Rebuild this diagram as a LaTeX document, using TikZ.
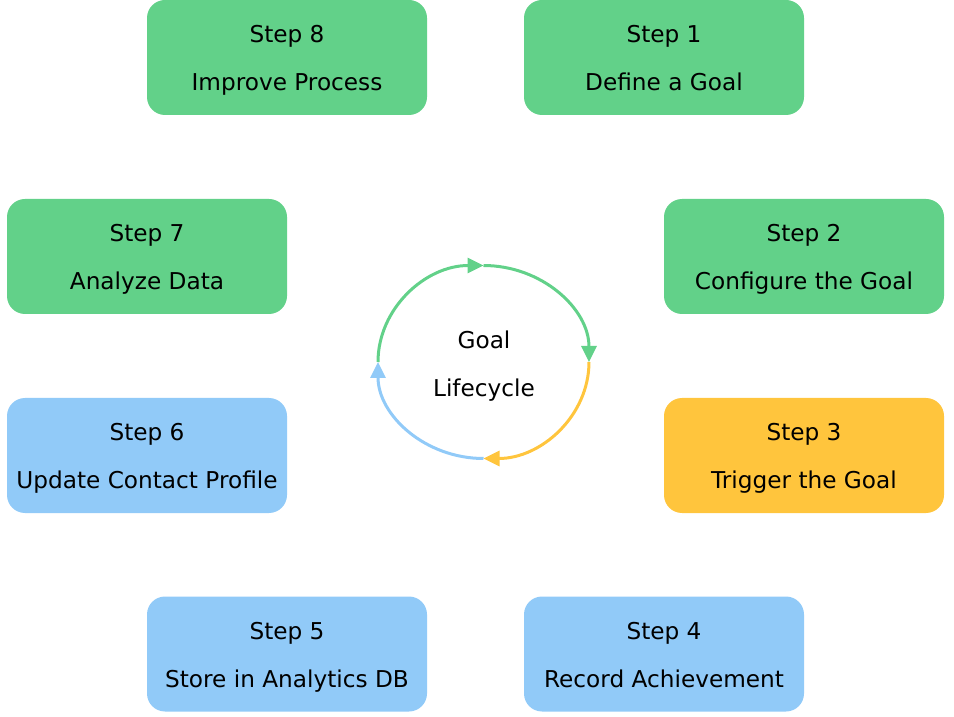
\documentclass[tikz,border=0pt]{standalone}
\usepackage{fontspec}
\setmainfont{DejaVu Sans}
\usetikzlibrary{arrows.meta}
\definecolor{stepgreen}{HTML}{62D189}
\definecolor{stepyellow}{HTML}{FFC53D}
\definecolor{stepblue}{HTML}{91CAF8}
\begin{document}
\begin{tikzpicture}[x=1pt,y=1pt,
    steptext/.style={align=center, text height=67pt, text depth=0pt,
      font=\fontsize{23.2}{48}\selectfont},
    stepbox/.style={steptext, rounded corners=18pt, minimum width=280pt,
      minimum height=115pt, inner sep=0pt},
    done/.style={stepbox, fill=stepgreen},
    active/.style={stepbox, fill=stepyellow},
    todo/.style={stepbox, fill=stepblue},
    flow/.style={draw=#1, line width=3pt, -{Triangle[length=16pt,width=15pt]}}]
  \useasboundingbox (0,0) rectangle (954,716);
  \draw
    (664,658.5) node[done] (1){Step 1\\Define a Goal}
    (804,459.5) node[done] (2){Step 2\\Configure the Goal}
    (804,260.5) node[active] (3){Step 3\\Trigger the Goal}
    (664,62) node[todo] (4){Step 4\\Record Achievement}
    (287,62) node[todo] (5){Step 5\\Store in Analytics DB}
    (147,260.5) node[todo] (6){Step 6\\Update Contact Profile}
    (147,459.5) node[done] (7){Step 7\\Analyze Data}
    (287,658.5) node[done] (8){Step 8\\Improve Process}
    (484,352.5) node[steptext, inner sep=0pt] (goal){Goal\\Lifecycle};
  \coordinate (w) at (378,354);
  \coordinate (n) at (483.5,450.5);
  \coordinate (e) at (589,354);
  \coordinate (s) at (483.5,257.5);
  \begin{scope}[x radius=105.5, y radius=96.5]
    \draw[flow=stepgreen] (w) arc[start angle=180, end angle=90];
    \draw[flow=stepgreen] (n) arc[start angle=90, end angle=0];
    \draw[flow=stepyellow] (e) arc[start angle=0, end angle=-90];
    \draw[flow=stepblue] (s) arc[start angle=-90, end angle=-180];
  \end{scope}
\end{tikzpicture}
\end{document}
